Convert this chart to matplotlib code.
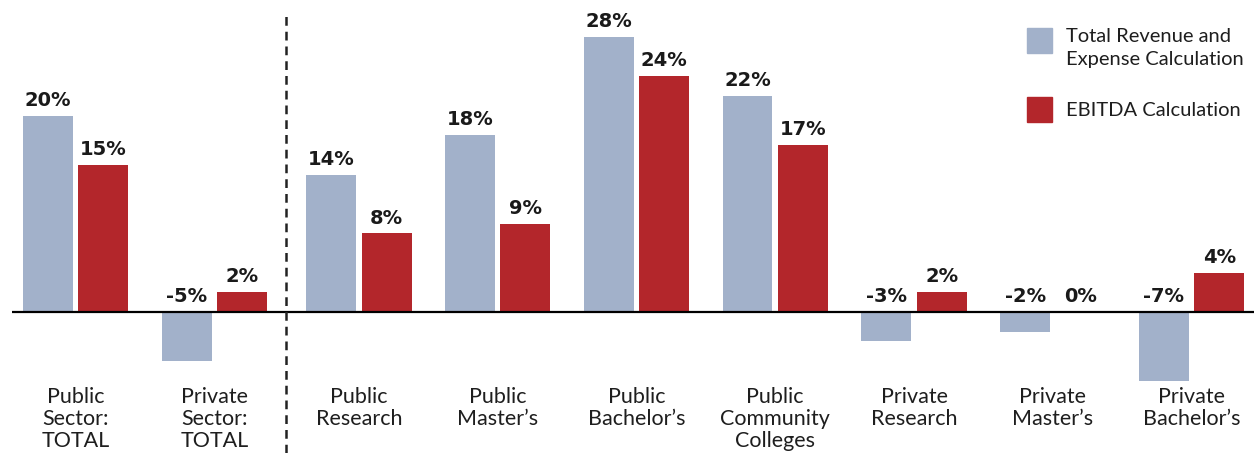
import numpy as np
import matplotlib.pyplot as plt
from matplotlib.patches import Rectangle

# Margin by institution type, two ways of computing it (percent)
categories = ["Public\nSector:\nTOTAL", "Private\nSector:\nTOTAL",
              "Public\nResearch", "Public\nMaster\u2019s", "Public\nBachelor\u2019s",
              "Public\nCommunity\nColleges", "Private\nResearch",
              "Private\nMaster\u2019s", "Private\nBachelor\u2019s"]
total_rev_exp = [20, -5, 14, 18, 28, 22, -3, -2, -7]
ebitda = [15, 2, 8, 9, 24, 17, 2, 0, 4]
series_names = ["Total Revenue and\nExpense Calculation", "EBITDA Calculation"]

blue = "#A2B1CA"
red = "#B3262B"

fig = plt.figure(figsize=(12.54, 4.53), dpi=100)
ax = fig.add_axes([0, 0, 1, 1])
ax.set_xlim(-0.545, 8.489)
ax.set_ylim(-14.36, 31.77)
ax.axis("off")

# sector totals on the left, a little extra room after the divider
x = np.arange(len(categories)) + np.where(np.arange(len(categories)) >= 2, 0.04, 0.0)
w = 0.36
off = 0.2
ax.bar(x - off, total_rev_exp, w, color=blue)
ax.bar(x + off, ebitda, w, color=red)

# zero baseline and divider between totals and sub-sectors
ax.plot([-0.459, 8.489], [0, 0], color="black", lw=1.6, solid_capstyle="butt")
ax.plot([1.515, 1.515], [-14.36, 30.6], color="#222222", lw=1.8, dashes=(3.5, 2.4))

lab_font = dict(family="DejaVu Sans", weight="bold", size=14, color="#1a1a1a")
for xs, vals in ((x - off, total_rev_exp), (x + off, ebitda)):
    for xi, v in zip(xs, vals):
        y = max(v, 0) + 0.6
        ax.text(xi, y, f"{v}%", ha="center", va="bottom", **lab_font)

for xi, name in zip(x, categories):
    ax.text(xi, -7.6, name, ha="center", va="top", family="Lato",
            size=15.5, color="#1e1e1e", linespacing=1.15)

# legend
for (y0, col, name, dy) in ((0.884, blue, series_names[0], 8),
                            (0.731, red, series_names[1], 1)):
    fig.patches.append(Rectangle((1027 / 1254, y0), 25 / 1254, 25 / 453,
                                 transform=fig.transFigure, color=col))
    fig.text(1066 / 1254, y0 + (12.5 - dy) / 453, name, ha="left", va="center",
             family="Lato", size=14.5, color="#1e1e1e", linespacing=1.45)

fig.savefig("out.png", dpi=100)
